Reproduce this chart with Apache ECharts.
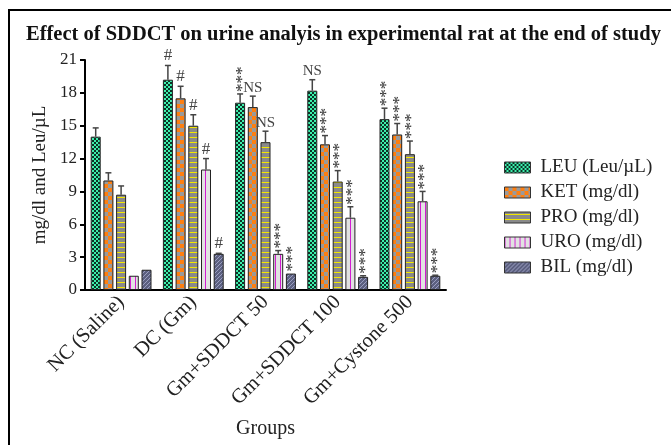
<!DOCTYPE html>
<html>
<head>
<meta charset="utf-8">
<script src="https://cdn.jsdelivr.net/npm/echarts@6/dist/echarts.min.js"></script>
<style>
  html, body { margin: 0; padding: 0; background: #fff; }
  #main { width: 671px; height: 445px; }
</style>
</head>
<body>
<div id="main"></div>
<script>
var categories = ['NC (Saline)', 'DC (Gm)', 'Gm+SDDCT 50', 'Gm+SDDCT 100', 'Gm+Cystone 500'];
var yTicks = [0, 3, 6, 9, 12, 15, 18, 21];

var leu = [14.0, 19.2, 17.1, 18.2, 15.6];
var leuErr = [14.8, 20.5, 17.9, 19.2, 16.6];
var leuSig = ['', '#', '***', 'NS', '***'];

var ket = [10.0, 17.5, 16.7, 13.3, 14.2];
var ketErr = [10.7, 18.6, 17.7, 14.1, 15.2];
var ketSig = ['', '#', 'NS', '***', '***'];

var pro = [8.7, 15.0, 13.5, 9.9, 12.4];
var proErr = [9.5, 16.0, 14.5, 10.9, 13.6];
var proSig = ['', '#', 'NS', '***', '***'];

var uro = [1.3, 11.0, 3.3, 6.6, 8.1];
var uroErr = [1.3, 12.0, 3.6, 7.6, 9.0];
var uroSig = ['', '#', '***', '***', '***'];

var bil = [1.85, 3.3, 1.5, 1.2, 1.3];
var bilErr = [1.85, 3.35, 1.5, 1.3, 1.35];
var bilSig = ['', '#', '***', '***', '***'];

var seriesNames = ['LEU (Leu/\u00b5L)', 'KET (mg/dl)', 'PRO (mg/dl)', 'URO (mg/dl)', 'BIL (mg/dl)'];

(function() {
    var FONT = '"Liberation Serif", "DejaVu Serif", serif';
    var BAR_W = 10;
    var GAP = 0.27;

    // small canvas fills for the hatched bars
    function makePattern(w, h, draw) {
        var c = document.createElement('canvas');
        c.width = w;
        c.height = h;
        draw(c.getContext('2d'));
        return { image: c, repeat: 'repeat' };
    }
    var fills = [
        makePattern(4, 4, function(g) {
            g.fillStyle = '#3df0ad'; g.fillRect(0, 0, 4, 4);
            g.fillStyle = '#0b3326'; g.fillRect(0, 0, 2, 2); g.fillRect(2, 2, 2, 2);
        }),
        makePattern(8, 8, function(g) {
            g.fillStyle = '#9a9a9a'; g.fillRect(0, 0, 8, 8);
            g.fillStyle = '#ff7f10'; g.fillRect(0, 0, 4, 4); g.fillRect(4, 4, 4, 4);
        }),
        makePattern(4, 5, function(g) {
            g.fillStyle = '#8a8a8a'; g.fillRect(0, 0, 4, 5);
            g.fillStyle = '#f2e600'; g.fillRect(0, 2, 4, 1);
        }),
        makePattern(5, 4, function(g) {
            g.fillStyle = '#e2e2e2'; g.fillRect(0, 0, 5, 4);
            g.fillStyle = '#d21cd2'; g.fillRect(0, 0, 1, 4);
        }),
        makePattern(4, 4, function(g) {
            g.fillStyle = '#5c6080'; g.fillRect(0, 0, 4, 4);
            g.strokeStyle = '#9a9ec0'; g.lineWidth = 1;
            g.beginPath(); g.moveTo(0, 4); g.lineTo(4, 0); g.stroke();
        })
    ];

    var values = [leu, ket, pro, uro, bil];
    var errs = [leuErr, ketErr, proErr, uroErr, bilErr];
    var sigs = [leuSig, ketSig, proSig, uroSig, bilSig];

    var chartDom = document.getElementById('main');
    var myChart = echarts.init(chartDom);

    function errorSeries(k) {
        var data = categories.map(function(c, i) {
            return [i, errs[k][i], values[k][i], sigs[k][i]];
        });
        return {
            type: 'custom',
            name: seriesNames[k] + ' err',
            z: 5,
            silent: true,
            data: data,
            encode: { x: 0, y: 1 },
            renderItem: function(params, api) {
                var base = api.coord([api.value(0), api.value(2)]);
                var top = api.coord([api.value(0), api.value(1)]);
                var x = base[0] + (k - 2) * BAR_W * (1 + GAP);
                var children = [];
                if (top[1] < base[1] - 0.5) {
                    children.push({
                        type: 'line',
                        shape: { x1: x, y1: base[1], x2: x, y2: top[1] },
                        style: { stroke: '#444', lineWidth: 1.5 }
                    });
                    children.push({
                        type: 'line',
                        shape: { x1: x - 3, y1: top[1], x2: x + 3, y2: top[1] },
                        style: { stroke: '#444', lineWidth: 1.5 }
                    });
                }
                var s = api.value(3);
                if (s === '***') {
                    children.push({
                        type: 'text',
                        x: x + 2,
                        y: top[1] - 2,
                        rotation: Math.PI / 2,
                        style: {
                            text: s, font: '17px ' + FONT, fill: '#333',
                            align: 'left', verticalAlign: 'middle'
                        }
                    });
                } else if (s) {
                    children.push({
                        type: 'text',
                        x: x,
                        y: top[1] - 1,
                        style: {
                            text: s, font: (s === '#' ? '17px ' : '15px ') + FONT, fill: '#444',
                            align: 'center', verticalAlign: 'bottom'
                        }
                    });
                }
                return { type: 'group', children: children };
            }
        };
    }

    var series = [];
    for (var k = 0; k < 5; k++) {
        series.push({
            name: seriesNames[k],
            type: 'bar',
            barWidth: BAR_W,
            barGap: (GAP * 100) + '%',
            data: values[k],
            itemStyle: { color: fills[k], borderColor: '#222', borderWidth: 1 }
        });
    }
    for (var j = 0; j < 5; j++) series.push(errorSeries(j));

    var option = {
        animation: false,
        backgroundColor: '#fff',
        textStyle: { fontFamily: FONT },
        title: {
            text: 'Effect of SDDCT on urine analyis in experimental rat at the end of study',
            left: 21,
            top: 19,
            textStyle: { fontFamily: FONT, fontSize: 20.5, fontWeight: 'bold', color: '#111' }
        },
        legend: {
            orient: 'vertical',
            left: 499,
            top: 153,
            itemWidth: 26,
            itemHeight: 11,
            itemGap: 6,
            icon: 'rect',
            data: seriesNames,
            itemStyle: { borderColor: '#333', borderWidth: 1 },
            textStyle: { fontFamily: FONT, fontSize: 19, color: '#222', padding: [0, 0, 0, 5] }
        },
        grid: {
            left: 85,
            right: 225,
            top: 60,
            bottom: 155,
            containLabel: false,
            outerBoundsMode: 'none'
        },
        xAxis: {
            type: 'category',
            data: categories,
            name: 'Groups',
            nameLocation: 'middle',
            nameGap: 129,
            nameTextStyle: { fontFamily: FONT, fontSize: 20, color: '#222' },
            axisLine: { lineStyle: { color: '#000', width: 2 } },
            axisTick: { alignWithLabel: true, length: 6, lineStyle: { color: '#000', width: 2 } },
            axisLabel: { rotate: 45, margin: 9, fontFamily: FONT, fontSize: 20.5, color: '#222' }
        },
        yAxis: {
            type: 'value',
            min: yTicks[0],
            max: yTicks[yTicks.length - 1],
            interval: 3,
            name: 'mg/dl and Leu/\u00b5L',
            nameLocation: 'middle',
            nameGap: 35,
            nameTextStyle: { fontFamily: FONT, fontSize: 19, color: '#222' },
            splitLine: { show: false },
            axisLine: { show: true, lineStyle: { color: '#000', width: 2 } },
            axisTick: { show: true, length: 5, lineStyle: { color: '#000', width: 2 } },
            axisLabel: { margin: 8, fontFamily: FONT, fontSize: 17, color: '#222' }
        },
        graphic: [
            { type: 'line', shape: { x1: 9, y1: 10, x2: 9, y2: 445 }, style: { stroke: '#000', lineWidth: 2 } },
            { type: 'line', shape: { x1: 8, y1: 10, x2: 671, y2: 10 }, style: { stroke: '#000', lineWidth: 2 } }
        ],
        series: series
    };

    myChart.setOption(option);
})();
</script>
</body>
</html>
